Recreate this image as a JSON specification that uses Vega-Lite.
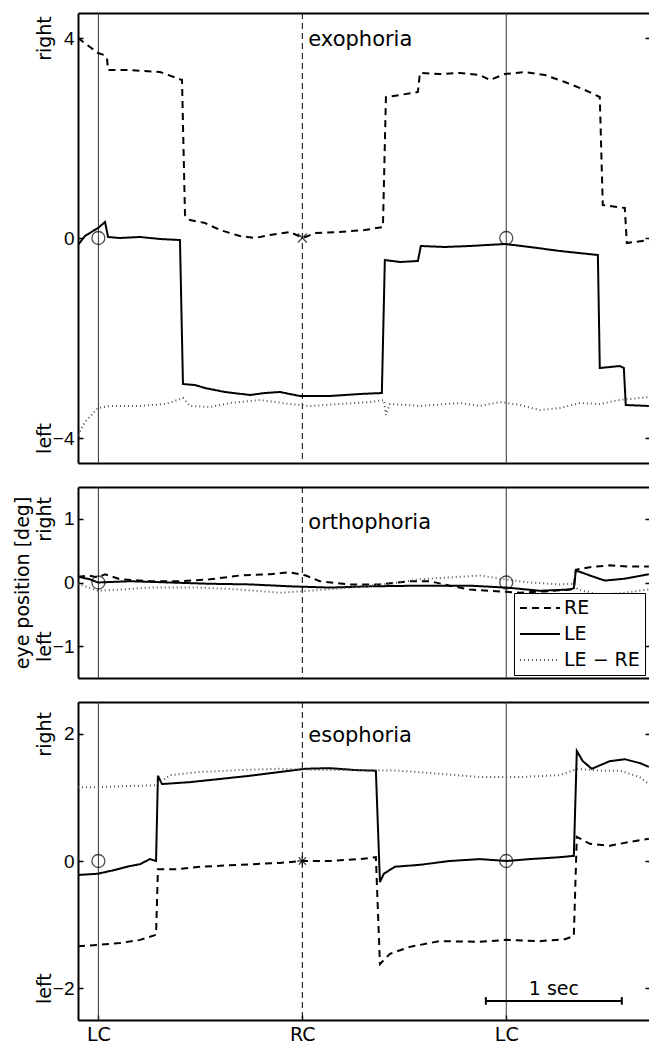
{
"$schema": "https://vega.github.io/schema/vega-lite/v6.json",
"padding": {"left": 13, "top": 12, "right": 0, "bottom": 0},
"spacing": 22,
"config": {"font": "DejaVu Sans", "view": {"stroke": null}, "axis": {"grid": false, "labelFont": "Liberation Sans", "labelFontSize": 19, "labelColor": "black", "titleFont": "DejaVu Sans", "titleFontSize": 19, "titleFontWeight": "normal", "titleColor": "black", "tickColor": "black", "domainColor": "black"}, "legend": {"labelFont": "DejaVu Sans"}},
"resolve": {"scale": {"color": "independent", "strokeDash": "independent", "strokeWidth": "independent", "shape": "independent"}},
"datasets": {
"d1": [
{"s":"RE","t":0,"v":4.0},{"s":"RE","t":0.088,"v":3.82},{"s":"RE","t":0.147,"v":3.7},{"s":"RE","t":0.191,"v":3.66},{"s":"RE","t":0.213,"v":3.6},{"s":"RE","t":0.221,"v":3.36},{"s":"RE","t":0.382,"v":3.36},{"s":"RE","t":0.603,"v":3.32},{"s":"RE","t":0.765,"v":3.16},{"s":"RE","t":0.787,"v":0.46},{"s":"RE","t":0.824,"v":0.36},{"s":"RE","t":0.934,"v":0.3},{"s":"RE","t":1.044,"v":0.16},{"s":"RE","t":1.191,"v":0.04},{"s":"RE","t":1.301,"v":0.0},{"s":"RE","t":1.412,"v":0.06},{"s":"RE","t":1.559,"v":0.12},{"s":"RE","t":1.654,"v":0.0},{"s":"RE","t":1.743,"v":0.1},{"s":"RE","t":1.926,"v":0.12},{"s":"RE","t":2.11,"v":0.16},{"s":"RE","t":2.243,"v":0.22},{"s":"RE","t":2.265,"v":2.82},{"s":"RE","t":2.368,"v":2.86},{"s":"RE","t":2.5,"v":2.92},{"s":"RE","t":2.515,"v":3.3},{"s":"RE","t":2.662,"v":3.28},{"s":"RE","t":2.809,"v":3.3},{"s":"RE","t":2.956,"v":3.26},{"s":"RE","t":3.029,"v":3.16},{"s":"RE","t":3.14,"v":3.28},{"s":"RE","t":3.287,"v":3.32},{"s":"RE","t":3.434,"v":3.26},{"s":"RE","t":3.581,"v":3.12},{"s":"RE","t":3.728,"v":2.96},{"s":"RE","t":3.838,"v":2.82},{"s":"RE","t":3.86,"v":0.66},{"s":"RE","t":4.022,"v":0.6},{"s":"RE","t":4.037,"v":-0.1},{"s":"RE","t":4.199,"v":-0.04},
{"s":"LE","t":0,"v":-0.14},{"s":"LE","t":0.051,"v":0.04},{"s":"LE","t":0.147,"v":0.2},{"s":"LE","t":0.199,"v":0.32},{"s":"LE","t":0.221,"v":0.02},{"s":"LE","t":0.309,"v":0},{"s":"LE","t":0.456,"v":0.02},{"s":"LE","t":0.603,"v":-0.02},{"s":"LE","t":0.75,"v":-0.04},{"s":"LE","t":0.772,"v":-2.92},{"s":"LE","t":0.86,"v":-2.94},{"s":"LE","t":0.934,"v":-3.0},{"s":"LE","t":1.081,"v":-3.08},{"s":"LE","t":1.265,"v":-3.14},{"s":"LE","t":1.375,"v":-3.1},{"s":"LE","t":1.485,"v":-3.08},{"s":"LE","t":1.632,"v":-3.16},{"s":"LE","t":1.853,"v":-3.16},{"s":"LE","t":2.074,"v":-3.12},{"s":"LE","t":2.235,"v":-3.1},{"s":"LE","t":2.257,"v":-0.44},{"s":"LE","t":2.368,"v":-0.48},{"s":"LE","t":2.5,"v":-0.46},{"s":"LE","t":2.522,"v":-0.16},{"s":"LE","t":2.699,"v":-0.18},{"s":"LE","t":2.882,"v":-0.16},{"s":"LE","t":3.14,"v":-0.12},{"s":"LE","t":3.324,"v":-0.18},{"s":"LE","t":3.544,"v":-0.26},{"s":"LE","t":3.824,"v":-0.34},{"s":"LE","t":3.838,"v":-2.6},{"s":"LE","t":3.985,"v":-2.56},{"s":"LE","t":4.015,"v":-2.6},{"s":"LE","t":4.029,"v":-3.34},{"s":"LE","t":4.199,"v":-3.36},
{"s":"LE − RE","t":0,"v":-3.94},{"s":"LE − RE","t":0.051,"v":-3.68},{"s":"LE − RE","t":0.147,"v":-3.4},{"s":"LE − RE","t":0.235,"v":-3.36},{"s":"LE − RE","t":0.456,"v":-3.36},{"s":"LE − RE","t":0.64,"v":-3.32},{"s":"LE − RE","t":0.735,"v":-3.24},{"s":"LE − RE","t":0.772,"v":-3.2},{"s":"LE − RE","t":0.824,"v":-3.36},{"s":"LE − RE","t":0.971,"v":-3.38},{"s":"LE − RE","t":1.118,"v":-3.3},{"s":"LE − RE","t":1.338,"v":-3.24},{"s":"LE − RE","t":1.559,"v":-3.32},{"s":"LE − RE","t":1.706,"v":-3.36},{"s":"LE − RE","t":1.926,"v":-3.32},{"s":"LE − RE","t":2.147,"v":-3.28},{"s":"LE − RE","t":2.25,"v":-3.24},{"s":"LE − RE","t":2.265,"v":-3.54},{"s":"LE − RE","t":2.294,"v":-3.32},{"s":"LE − RE","t":2.515,"v":-3.36},{"s":"LE − RE","t":2.809,"v":-3.3},{"s":"LE − RE","t":2.956,"v":-3.36},{"s":"LE − RE","t":3.103,"v":-3.28},{"s":"LE − RE","t":3.25,"v":-3.34},{"s":"LE − RE","t":3.397,"v":-3.44},{"s":"LE − RE","t":3.544,"v":-3.4},{"s":"LE − RE","t":3.691,"v":-3.3},{"s":"LE − RE","t":3.838,"v":-3.32},{"s":"LE − RE","t":3.985,"v":-3.24},{"s":"LE − RE","t":4.199,"v":-3.18}
],
"d2": [
{"s":"RE","t":0,"v":0.09},{"s":"RE","t":0.074,"v":0.11},{"s":"RE","t":0.147,"v":0.08},{"s":"RE","t":0.199,"v":0.13},{"s":"RE","t":0.309,"v":0.05},{"s":"RE","t":0.529,"v":0.02},{"s":"RE","t":0.75,"v":0.02},{"s":"RE","t":0.971,"v":0.05},{"s":"RE","t":1.191,"v":0.11},{"s":"RE","t":1.412,"v":0.13},{"s":"RE","t":1.559,"v":0.16},{"s":"RE","t":1.676,"v":0.11},{"s":"RE","t":1.779,"v":0.02},{"s":"RE","t":2.0,"v":-0.03},{"s":"RE","t":2.221,"v":-0.03},{"s":"RE","t":2.441,"v":0.02},{"s":"RE","t":2.588,"v":0.02},{"s":"RE","t":2.735,"v":-0.05},{"s":"RE","t":2.882,"v":-0.11},{"s":"RE","t":3.103,"v":-0.14},{"s":"RE","t":3.25,"v":-0.16},{"s":"RE","t":3.434,"v":-0.14},{"s":"RE","t":3.618,"v":-0.11},{"s":"RE","t":3.647,"v":-0.08},{"s":"RE","t":3.662,"v":0.2},{"s":"RE","t":3.765,"v":0.24},{"s":"RE","t":3.912,"v":0.27},{"s":"RE","t":4.059,"v":0.25},{"s":"RE","t":4.199,"v":0.25},
{"s":"LE","t":0,"v":0.09},{"s":"LE","t":0.088,"v":0.05},{"s":"LE","t":0.147,"v":0},{"s":"LE","t":0.382,"v":0.02},{"s":"LE","t":0.676,"v":0},{"s":"LE","t":0.971,"v":-0.02},{"s":"LE","t":1.265,"v":-0.03},{"s":"LE","t":1.559,"v":-0.06},{"s":"LE","t":1.853,"v":-0.08},{"s":"LE","t":2.147,"v":-0.06},{"s":"LE","t":2.515,"v":-0.05},{"s":"LE","t":2.882,"v":-0.05},{"s":"LE","t":3.154,"v":-0.08},{"s":"LE","t":3.397,"v":-0.13},{"s":"LE","t":3.618,"v":-0.11},{"s":"LE","t":3.647,"v":-0.09},{"s":"LE","t":3.662,"v":0.19},{"s":"LE","t":3.765,"v":0.11},{"s":"LE","t":3.875,"v":0.03},{"s":"LE","t":4.022,"v":0.06},{"s":"LE","t":4.199,"v":0.13},
{"s":"LE − RE","t":0,"v":-0.02},{"s":"LE − RE","t":0.147,"v":-0.13},{"s":"LE − RE","t":0.309,"v":-0.11},{"s":"LE − RE","t":0.529,"v":-0.08},{"s":"LE − RE","t":0.897,"v":-0.08},{"s":"LE − RE","t":1.191,"v":-0.11},{"s":"LE − RE","t":1.485,"v":-0.16},{"s":"LE − RE","t":1.706,"v":-0.13},{"s":"LE − RE","t":2.0,"v":-0.08},{"s":"LE − RE","t":2.294,"v":-0.02},{"s":"LE − RE","t":2.515,"v":0.05},{"s":"LE − RE","t":2.735,"v":0.08},{"s":"LE − RE","t":2.956,"v":0.11},{"s":"LE − RE","t":3.103,"v":0.06},{"s":"LE − RE","t":3.324,"v":0},{"s":"LE − RE","t":3.544,"v":-0.03},{"s":"LE − RE","t":3.647,"v":-0.02},{"s":"LE − RE","t":3.676,"v":-0.11},{"s":"LE − RE","t":3.838,"v":-0.19},{"s":"LE − RE","t":3.985,"v":-0.17},{"s":"LE − RE","t":4.199,"v":-0.11}
],
"d3": [
{"s":"RE","t":0,"v":-1.34},{"s":"RE","t":0.147,"v":-1.32},{"s":"RE","t":0.309,"v":-1.29},{"s":"RE","t":0.456,"v":-1.24},{"s":"RE","t":0.574,"v":-1.16},{"s":"RE","t":0.588,"v":-0.13},{"s":"RE","t":0.713,"v":-0.13},{"s":"RE","t":0.897,"v":-0.09},{"s":"RE","t":1.191,"v":-0.06},{"s":"RE","t":1.485,"v":-0.03},{"s":"RE","t":1.654,"v":0},{"s":"RE","t":1.853,"v":0},{"s":"RE","t":2.074,"v":0.03},{"s":"RE","t":2.191,"v":0.06},{"s":"RE","t":2.221,"v":-1.62},{"s":"RE","t":2.294,"v":-1.46},{"s":"RE","t":2.441,"v":-1.35},{"s":"RE","t":2.662,"v":-1.26},{"s":"RE","t":2.956,"v":-1.27},{"s":"RE","t":3.154,"v":-1.24},{"s":"RE","t":3.397,"v":-1.26},{"s":"RE","t":3.581,"v":-1.23},{"s":"RE","t":3.647,"v":-1.18},{"s":"RE","t":3.669,"v":0.38},{"s":"RE","t":3.765,"v":0.27},{"s":"RE","t":3.912,"v":0.24},{"s":"RE","t":4.059,"v":0.3},{"s":"RE","t":4.199,"v":0.35},
{"s":"LE","t":0,"v":-0.22},{"s":"LE","t":0.147,"v":-0.2},{"s":"LE","t":0.272,"v":-0.14},{"s":"LE","t":0.382,"v":-0.08},{"s":"LE","t":0.456,"v":-0.05},{"s":"LE","t":0.529,"v":0.03},{"s":"LE","t":0.574,"v":0},{"s":"LE","t":0.588,"v":1.34},{"s":"LE","t":0.618,"v":1.21},{"s":"LE","t":0.824,"v":1.24},{"s":"LE","t":1.044,"v":1.29},{"s":"LE","t":1.265,"v":1.34},{"s":"LE","t":1.485,"v":1.4},{"s":"LE","t":1.669,"v":1.45},{"s":"LE","t":1.853,"v":1.46},{"s":"LE","t":2.037,"v":1.43},{"s":"LE","t":2.191,"v":1.42},{"s":"LE","t":2.221,"v":-0.33},{"s":"LE","t":2.25,"v":-0.2},{"s":"LE","t":2.331,"v":-0.09},{"s":"LE","t":2.515,"v":-0.06},{"s":"LE","t":2.735,"v":0},{"s":"LE","t":2.956,"v":0.03},{"s":"LE","t":3.154,"v":0},{"s":"LE","t":3.324,"v":0.03},{"s":"LE","t":3.544,"v":0.06},{"s":"LE","t":3.647,"v":0.08},{"s":"LE","t":3.669,"v":1.73},{"s":"LE","t":3.713,"v":1.57},{"s":"LE","t":3.779,"v":1.45},{"s":"LE","t":3.912,"v":1.57},{"s":"LE","t":4.022,"v":1.6},{"s":"LE","t":4.132,"v":1.54},{"s":"LE","t":4.199,"v":1.48},
{"s":"LE − RE","t":0,"v":1.16},{"s":"LE − RE","t":0.147,"v":1.16},{"s":"LE − RE","t":0.382,"v":1.18},{"s":"LE − RE","t":0.574,"v":1.19},{"s":"LE − RE","t":0.676,"v":1.35},{"s":"LE − RE","t":0.897,"v":1.4},{"s":"LE − RE","t":1.191,"v":1.43},{"s":"LE − RE","t":1.485,"v":1.45},{"s":"LE − RE","t":1.779,"v":1.43},{"s":"LE − RE","t":2.074,"v":1.43},{"s":"LE − RE","t":2.368,"v":1.42},{"s":"LE − RE","t":2.662,"v":1.37},{"s":"LE − RE","t":2.956,"v":1.32},{"s":"LE − RE","t":3.25,"v":1.32},{"s":"LE − RE","t":3.544,"v":1.35},{"s":"LE − RE","t":3.676,"v":1.45},{"s":"LE − RE","t":3.838,"v":1.42},{"s":"LE − RE","t":3.985,"v":1.42},{"s":"LE − RE","t":4.132,"v":1.32},{"s":"LE − RE","t":4.199,"v":1.21}
],
"vl": [{"t":0.15,"k":"LC"},{"t":1.65,"k":"RC"},{"t":3.15,"k":"LC"}],
"m1": [{"t":0.15,"v":0,"m":"o"},{"t":1.65,"v":0,"m":"x"},{"t":3.15,"v":0,"m":"o"}],
"m2": [{"t":0.15,"v":0,"m":"o"},{"t":3.15,"v":0,"m":"o"}],
"m3": [{"t":0.15,"v":0,"m":"o"},{"t":1.65,"v":0,"m":"*"},{"t":3.15,"v":0,"m":"o"}],
"l1": [{"t":1.65,"v":3.96,"label":"exophoria"}],
"l2": [{"t":1.65,"v":0.94,"label":"orthophoria"}],
"l3": [{"t":1.65,"v":1.97,"label":"esophoria"}],
"bar": [{"t":3.0,"t2":4.0,"v":-2.2}],
"caps": [{"t":3.0,"v":-2.26,"v2":-2.14},{"t":4.0,"v":-2.26,"v2":-2.14}],
"sec": [{"t":3.5,"v":-2.1,"label":"1 sec"}]
},
"vconcat": [
{
"width": 571, "height": 450,
"resolve": {"axis": {"x": "independent", "y": "independent"}},
"layer": [
{"data": {"name": "vl"}, "transform": [{"filter": "datum.k == 'LC'"}], "mark": {"type": "rule", "color": "#333", "strokeWidth": 1},
 "encoding": {"x": {"field": "t", "type": "quantitative", "scale": {"domain": [0, 4.2], "nice": false, "zero": false}, "axis": {"orient": "top", "labels": false, "ticks": false, "domain": true, "domainWidth": 2, "title": null}}}},
{"data": {"name": "vl"}, "transform": [{"filter": "datum.k == 'RC'"}], "mark": {"type": "rule", "color": "black", "strokeWidth": 1, "strokeDash": [6, 4]},
 "encoding": {"x": {"field": "t", "type": "quantitative", "axis": null}}},
{"data": {"name": "d1"}, "mark": {"type": "line", "clip": true},
 "encoding": {
  "x": {"field": "t", "type": "quantitative", "scale": {"domain": [0, 4.2], "nice": false, "zero": false}, "axis": {"orient": "bottom", "labels": false, "ticks": false, "domain": true, "domainWidth": 2, "title": null}},
  "y": {"field": "v", "type": "quantitative", "scale": {"domain": [-4.5, 4.5], "nice": false, "zero": false}, "axis": {"orient": "left", "values": [-4, 0, 4], "tickSize": -5, "tickWidth": 1.5, "labelPadding": 9, "domain": true, "domainWidth": 2, "title": null}},
  "strokeDash": {"field": "s", "type": "nominal", "scale": {"domain": ["RE", "LE", "LE − RE"], "range": [[7, 5], [1, 0], [1, 3]]}, "legend": null},
  "strokeWidth": {"field": "s", "type": "nominal", "scale": {"domain": ["RE", "LE", "LE − RE"], "range": [2, 2, 1]}, "legend": null},
  "color": {"field": "s", "type": "nominal", "scale": {"domain": ["RE", "LE", "LE − RE"], "range": ["black", "black", "#555"]}, "legend": null}}},
{"data": {"name": "m1"}, "mark": {"type": "point", "filled": false, "size": 169, "color": "black", "strokeWidth": 1.3},
 "encoding": {"x": {"field": "t", "type": "quantitative", "axis": null},
  "y": {"field": "v", "type": "quantitative", "axis": {"orient": "right", "values": [-4, 0, 4], "labels": false, "domain": false, "tickSize": -4, "tickWidth": 1.5, "title": null}},
  "shape": {"field": "m", "type": "nominal", "scale": {"domain": ["o", "x", "*"], "range": ["circle", "M-0.7,-0.7L0.7,0.7M-0.7,0.7L0.7,-0.7", "M-0.8,0L0.8,0M0,-0.8L0,0.8M-0.57,-0.57L0.57,0.57M-0.57,0.57L0.57,-0.57"]}, "legend": null}}},
{"data": {"name": "l1"}, "mark": {"type": "text", "align": "left", "baseline": "middle", "dx": 6, "fontSize": 21, "color": "black"},
 "encoding": {"x": {"field": "t", "type": "quantitative", "axis": null},
  "y": {"field": "v", "type": "quantitative", "axis": {"orient": "left", "values": [-4, 4], "labelExpr": "datum.value > 0 ? 'right' : 'left'", "labelFont": "DejaVu Sans", "labelAngle": 270, "labelAlign": "center", "labelBaseline": "middle", "ticks": false, "domain": false, "labelPadding": 34, "title": null}},
  "text": {"field": "label"}}}
]
},
{
"width": 571, "height": 191,
"resolve": {"axis": {"x": "independent", "y": "independent"}},
"layer": [
{"data": {"name": "vl"}, "transform": [{"filter": "datum.k == 'LC'"}], "mark": {"type": "rule", "color": "#333", "strokeWidth": 1},
 "encoding": {"x": {"field": "t", "type": "quantitative", "scale": {"domain": [0, 4.2], "nice": false, "zero": false}, "axis": {"orient": "top", "labels": false, "ticks": false, "domain": true, "domainWidth": 2, "title": null}}}},
{"data": {"name": "vl"}, "transform": [{"filter": "datum.k == 'RC'"}], "mark": {"type": "rule", "color": "black", "strokeWidth": 1, "strokeDash": [6, 4]},
 "encoding": {"x": {"field": "t", "type": "quantitative", "axis": null}}},
{"data": {"name": "d2"}, "mark": {"type": "line", "clip": true},
 "encoding": {
  "x": {"field": "t", "type": "quantitative", "scale": {"domain": [0, 4.2], "nice": false, "zero": false}, "axis": {"orient": "bottom", "labels": false, "ticks": false, "domain": true, "domainWidth": 2, "title": null}},
  "y": {"field": "v", "type": "quantitative", "scale": {"domain": [-1.5, 1.5], "nice": false, "zero": false}, "axis": {"orient": "left", "values": [-1, 0, 1], "tickSize": -5, "tickWidth": 1.5, "labelPadding": 9, "domain": true, "domainWidth": 2, "title": null}},
  "strokeDash": {"field": "s", "type": "nominal", "scale": {"domain": ["RE", "LE", "LE − RE"], "range": [[7, 5], [1, 0], [1, 3]]}, "legend": {"orient": "none", "legendX": 436, "legendY": 106, "title": null, "strokeColor": "black", "fillColor": "white", "padding": 5, "symbolType": "M-1,0H3.44", "symbolSize": 324, "labelFontSize": 19, "labelColor": "black", "labelOffset": 25, "rowPadding": 6}},
  "strokeWidth": {"field": "s", "type": "nominal", "scale": {"domain": ["RE", "LE", "LE − RE"], "range": [2, 2, 1]}, "legend": {"orient": "none", "legendX": 436, "legendY": 106, "title": null, "strokeColor": "black", "fillColor": "white", "padding": 5, "symbolType": "M-1,0H3.44", "symbolSize": 324, "labelFontSize": 19, "labelColor": "black", "labelOffset": 25, "rowPadding": 6}},
  "color": {"field": "s", "type": "nominal", "scale": {"domain": ["RE", "LE", "LE − RE"], "range": ["black", "black", "#555"]}, "legend": {"orient": "none", "legendX": 436, "legendY": 106, "title": null, "strokeColor": "black", "fillColor": "white", "padding": 5, "symbolType": "M-1,0H3.44", "symbolSize": 324, "labelFontSize": 19, "labelColor": "black", "labelOffset": 25, "rowPadding": 6}}}},
{"data": {"name": "m2"}, "mark": {"type": "point", "filled": false, "size": 169, "color": "black", "strokeWidth": 1.3},
 "encoding": {"x": {"field": "t", "type": "quantitative", "axis": null},
  "y": {"field": "v", "type": "quantitative", "axis": {"orient": "right", "values": [-1, 0, 1], "labels": false, "domain": false, "tickSize": -4, "tickWidth": 1.5, "title": null}},
  "shape": {"field": "m", "type": "nominal", "scale": {"domain": ["o", "x", "*"], "range": ["circle", "M-0.7,-0.7L0.7,0.7M-0.7,0.7L0.7,-0.7", "M-0.8,0L0.8,0M0,-0.8L0,0.8M-0.57,-0.57L0.57,0.57M-0.57,0.57L0.57,-0.57"]}, "legend": null}}},
{"data": {"name": "l2"}, "mark": {"type": "text", "align": "left", "baseline": "middle", "dx": 6, "fontSize": 21, "color": "black"},
 "encoding": {"x": {"field": "t", "type": "quantitative", "axis": null},
  "y": {"field": "v", "type": "quantitative", "axis": {"orient": "left", "values": [-1, 1], "labelExpr": "datum.value > 0 ? 'right' : 'left'", "labelFont": "DejaVu Sans", "labelAngle": 270, "labelAlign": "center", "labelBaseline": "middle", "ticks": false, "domain": false, "labelPadding": 34, "title": "eye position [deg]", "titlePadding": 3}},
  "text": {"field": "label"}}}
]
},
{
"width": 571, "height": 318,
"resolve": {"axis": {"x": "independent", "y": "independent"}},
"layer": [
{"data": {"name": "vl"}, "transform": [{"filter": "datum.k == 'LC'"}], "mark": {"type": "rule", "color": "#333", "strokeWidth": 1},
 "encoding": {"x": {"field": "t", "type": "quantitative", "scale": {"domain": [0, 4.2], "nice": false, "zero": false}, "axis": {"orient": "top", "labels": false, "ticks": false, "domain": true, "domainWidth": 2, "title": null}}}},
{"data": {"name": "vl"}, "transform": [{"filter": "datum.k == 'RC'"}], "mark": {"type": "rule", "color": "black", "strokeWidth": 1, "strokeDash": [6, 4]},
 "encoding": {"x": {"field": "t", "type": "quantitative", "axis": null}}},
{"data": {"name": "d3"}, "mark": {"type": "line", "clip": true},
 "encoding": {
  "x": {"field": "t", "type": "quantitative", "scale": {"domain": [0, 4.2], "nice": false, "zero": false}, "axis": {"orient": "bottom", "values": [0.15, 1.65, 3.15], "labelExpr": "datum.value > 1 && datum.value < 2 ? 'RC' : 'LC'", "labelFont": "DejaVu Sans", "tickSize": -5, "tickWidth": 1.5, "labelPadding": 10, "domain": true, "domainWidth": 2, "title": null}},
  "y": {"field": "v", "type": "quantitative", "scale": {"domain": [-2.5, 2.5], "nice": false, "zero": false}, "axis": {"orient": "left", "values": [-2, 0, 2], "tickSize": -5, "tickWidth": 1.5, "labelPadding": 9, "domain": true, "domainWidth": 2, "title": null}},
  "strokeDash": {"field": "s", "type": "nominal", "scale": {"domain": ["RE", "LE", "LE − RE"], "range": [[7, 5], [1, 0], [1, 3]]}, "legend": null},
  "strokeWidth": {"field": "s", "type": "nominal", "scale": {"domain": ["RE", "LE", "LE − RE"], "range": [2, 2, 1]}, "legend": null},
  "color": {"field": "s", "type": "nominal", "scale": {"domain": ["RE", "LE", "LE − RE"], "range": ["black", "black", "#555"]}, "legend": null}}},
{"data": {"name": "m3"}, "mark": {"type": "point", "filled": false, "size": 169, "color": "black", "strokeWidth": 1.3},
 "encoding": {"x": {"field": "t", "type": "quantitative", "axis": null},
  "y": {"field": "v", "type": "quantitative", "axis": {"orient": "right", "values": [-2, 0, 2], "labels": false, "domain": false, "tickSize": -4, "tickWidth": 1.5, "title": null}},
  "shape": {"field": "m", "type": "nominal", "scale": {"domain": ["o", "x", "*"], "range": ["circle", "M-0.7,-0.7L0.7,0.7M-0.7,0.7L0.7,-0.7", "M-0.8,0L0.8,0M0,-0.8L0,0.8M-0.57,-0.57L0.57,0.57M-0.57,0.57L0.57,-0.57"]}, "legend": null}}},
{"data": {"name": "l3"}, "mark": {"type": "text", "align": "left", "baseline": "middle", "dx": 6, "fontSize": 21, "color": "black"},
 "encoding": {"x": {"field": "t", "type": "quantitative", "axis": null},
  "y": {"field": "v", "type": "quantitative", "axis": {"orient": "left", "values": [-2, 2], "labelExpr": "datum.value > 0 ? 'right' : 'left'", "labelFont": "DejaVu Sans", "labelAngle": 270, "labelAlign": "center", "labelBaseline": "middle", "ticks": false, "domain": false, "labelPadding": 34, "title": null}},
  "text": {"field": "label"}}},
{"data": {"name": "bar"}, "mark": {"type": "rule", "color": "black", "strokeWidth": 2},
 "encoding": {"x": {"field": "t", "type": "quantitative", "axis": null}, "x2": {"field": "t2"}, "y": {"field": "v", "type": "quantitative", "axis": null}}},
{"data": {"name": "caps"}, "mark": {"type": "rule", "color": "black", "strokeWidth": 2},
 "encoding": {"x": {"field": "t", "type": "quantitative", "axis": null}, "y": {"field": "v", "type": "quantitative", "axis": null}, "y2": {"field": "v2"}}},
{"data": {"name": "sec"}, "mark": {"type": "text", "align": "center", "baseline": "alphabetic", "fontSize": 19, "color": "black"},
 "encoding": {"x": {"field": "t", "type": "quantitative", "axis": null}, "y": {"field": "v", "type": "quantitative", "axis": null}, "text": {"field": "label"}}}
]
}
]
}
